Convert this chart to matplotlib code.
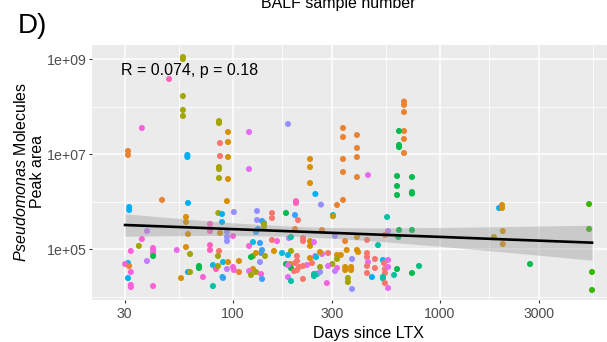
import numpy as np
import matplotlib
matplotlib.use("Agg")
import matplotlib.pyplot as plt
from matplotlib.ticker import NullFormatter

plt.rcParams['font.family'] = ['Liberation Sans', 'DejaVu Sans']
plt.rcParams['mathtext.fontset'] = 'custom'
plt.rcParams['mathtext.rm'] = 'Liberation Sans'
plt.rcParams['mathtext.it'] = 'Liberation Sans:italic'

# ---------------- data ----------------
days = [
    57.3, 57.3, 49.1, 57.3, 57.3, 57.3, 36.3, 85.6, 85.6, 94.6,
    119.5, 184.4, 340, 340, 31.1, 31.1, 86.5, 94.6, 60.2, 60.2,
    86.5, 94.6, 235.5, 235.5, 340, 340, 85.6, 85.6, 119.5, 85.6,
    94.6, 397, 397, 397, 397, 449, 670, 670, 670, 670,
    670, 670, 634, 634, 634, 620, 732, 235.5, 620, 620,
    732, 732, 250, 266, 318, 340, 304, 304, 555, 634,
    732, 561, 269, 311, 348, 397, 444, 542, 629, 502,
    288, 354, 397, 402, 332, 318, 318, 302, 376, 444,
    444, 485, 449, 530, 561, 536, 348, 348, 372, 372,
    318, 311, 288, 444, 485, 542, 561, 620, 792, 732,
    444, 469, 542, 530, 530, 600, 359, 359, 542, 561,
    376, 284, 1928, 1993, 1993, 2010, 2010, 1823, 2722, 5248,
    5248, 5424, 5424, 218, 218, 235.5, 235.5, 246, 45.4, 60.6,
    31.5, 31.5, 59.3, 59.3, 60.6, 38.4, 36.3, 77.4, 77.4, 84.9,
    88.5, 88.5, 86.5, 35.1, 32.1, 41.1, 41.1, 41.1, 41.1, 53.5,
    59.3, 62.0, 77.4, 77.4, 85.6, 84.6, 31.1, 30.1, 31.5, 38.4,
    32.1, 31.1, 32.1, 32.1, 41.1, 56.1, 60.6, 62.0, 68.5, 68.5,
    80.0, 82.8, 84.6, 71.6, 80.0, 89.0, 93.5, 201.5, 201.5, 101,
    130.6, 130.6, 154.3, 154.3, 180.3, 199.3, 206, 138.1, 141.2, 141.2,
    141.2, 93.5, 93.5, 93.5, 100, 132.1, 129.1, 154.3, 163.2, 186.4,
    190.6, 199.3, 124.9, 135, 119.5, 138.1, 136.6, 129.1, 157.8, 172.5,
    190.6, 184.4, 203.8, 124.9, 122.2, 142.7, 235.5, 249.8, 203.8, 269.2,
    263.3, 89.5, 94.6, 106.9, 135, 93.5, 100, 89.5, 101, 106.9,
    180.3, 188.5, 190.6, 199.3, 208.4, 203.8, 197.2, 184.4, 227.8, 263.3,
    240.8, 124.9, 119.5, 129.1, 136.6, 138.1, 122.2, 184.4, 190.6, 217.8,
    246.2, 246.2, 254.5, 263.3, 217.8, 251.8,
]
peak_area = [
    1.10e9, 1.00e9, 3.79e8, 1.66e8, 8.44e7, 6.31e7, 3.53e7, 4.95e7, 4.49e7, 2.91e7,
    2.91e7, 4.28e7, 3.53e7, 2.28e7, 1.16e7, 9.53e6, 1.70e7, 1.79e7, 9.53e6, 8.65e6,
    9.08e6, 8.65e6, 7.85e6, 5.32e6, 7.85e6, 4.18e6, 5.32e6, 4.83e6, 4.83e6, 3.12e6,
    2.98e6, 2.51e7, 1.34e7, 8.65e6, 3.28e6, 3.61e6, 1.27e8, 1.08e8, 7.66e7, 3.05e7,
    2.07e7, 1.05e7, 3.05e7, 1.55e7, 1.40e7, 3.44e6, 3.28e6, 2.45e6, 2.12e6, 1.37e6,
    1.58e6, 1.47e6, 1.44e6, 8.6e5, 8.44e5, 1.08e6, 5.20e5, 4.90e5, 4.72e5, 2.51e5,
    2.51e5, 2.39e5, 2.51e5, 1.88e5, 1.47e5, 1.79e5, 1.55e5, 1.97e5, 1.79e5, 1.21e5,
    8.24e4, 9.53e4, 9.53e4, 8.65e4, 7.48e4, 7.48e4, 6.16e4, 4.83e4, 6.16e4, 8.24e4,
    6.79e4, 6.16e4, 5.32e4, 5.87e4, 5.87e4, 5.07e4, 4.18e4, 3.61e4, 4.18e4, 3.61e4,
    3.98e4, 3.44e4, 4.39e4, 4.39e4, 3.98e4, 3.79e4, 4.18e4, 3.79e4, 4.39e4, 3.12e4,
    3.12e4, 2.57e4, 3.12e4, 2.57e4, 2.40e4, 2.84e4, 2.45e4, 2.02e4, 1.92e4, 1.51e4,
    1.44e4, 1.92e4, 7.30e5, 8.44e5, 7.30e5, 2.39e5, 1.27e5, 1.79e5, 4.83e4, 8.86e5,
    2.64e5, 3.28e4, 1.37e4, 1.70e5, 1.47e5, 1.47e5, 1.16e5, 1.40e5, 1.08e6, 9.30e5,
    7.66e5, 6.62e5, 4.72e5, 3.70e5, 2.07e5, 2.39e5, 1.62e5, 3.36e5, 2.39e5, 5.73e5,
    5.46e5, 3.70e5, 2.18e5, 1.16e5, 9.08e4, 1.05e5, 9.53e4, 8.24e4, 7.12e4, 9.53e4,
    1.10e5, 7.85e4, 1.21e5, 9.53e4, 9.08e4, 7.12e4, 5.07e4, 4.83e4, 4.39e4, 5.59e4,
    3.28e4, 2.45e4, 1.75e4, 1.58e4, 1.66e4, 2.45e4, 3.28e4, 3.28e4, 4.39e4, 3.98e4,
    4.60e4, 3.79e4, 4.39e4, 2.57e4, 1.66e4, 2.57e4, 1.02e6, 1.02e6, 9.30e5, 6.01e5,
    6.31e5, 4.08e5, 5.73e5, 4.49e5, 5.73e5, 5.20e5, 4.08e5, 3.89e5, 3.53e5, 3.36e5,
    2.91e5, 2.28e5, 1.79e5, 1.47e5, 1.88e5, 2.64e5, 2.28e5, 1.55e5, 1.47e5, 1.70e5,
    1.79e5, 2.64e5, 1.40e5, 1.34e5, 1.16e5, 9.53e4, 8.24e4, 8.24e4, 9.08e4, 8.24e4,
    9.08e4, 7.48e4, 7.12e4, 7.12e4, 6.79e4, 7.12e4, 6.46e4, 7.12e4, 5.59e4, 7.85e4,
    8.65e4, 5.32e4, 5.32e4, 5.59e4, 5.32e4, 3.79e4, 4.18e4, 2.45e4, 3.61e4, 3.28e4,
    4.83e4, 4.83e4, 3.98e4, 5.07e4, 4.18e4, 3.61e4, 3.44e4, 4.60e4, 4.60e4, 4.18e4,
    5.07e4, 3.79e4, 3.44e4, 3.28e4, 2.98e4, 2.34e4, 2.84e4, 2.57e4, 2.12e4, 2.34e4,
    2.70e4, 2.98e4, 2.98e4, 3.28e4, 4.39e4, 6.79e4,
]
patient = [
    "P05", "P05", "P19", "P05", "P05", "P05", "P18", "P05", "P05", "P03",
    "P17", "P15", "P02", "P02", "P02", "P02", "P01", "P03", "P13", "P13",
    "P01", "P03", "P03", "P03", "P02", "P02", "P05", "P05", "P17", "P05",
    "P03", "P02", "P02", "P02", "P02", "P17", "P02", "P02", "P02", "P02",
    "P02", "P02", "P08", "P08", "P08", "P08", "P08", "P03", "P08", "P08",
    "P08", "P08", "P13", "P15", "P02", "P02", "P12", "P04", "P10", "P08",
    "P08", "P16", "P02", "P15", "P02", "P03", "P01", "P01", "P08", "P10",
    "P01", "P03", "P03", "P03", "P03", "P03", "P05", "P05", "P15", "P01",
    "P01", "P01", "P17", "P13", "P17", "P01", "P03", "P03", "P03", "P03",
    "P18", "P16", "P17", "P01", "P01", "P01", "P17", "P08", "P09", "P08",
    "P01", "P13", "P01", "P10", "P10", "P10", "P05", "P05", "P01", "P17",
    "P15", "P18", "P13", "P03", "P03", "P03", "P03", "P04", "P08", "P07",
    "P07", "P07", "P07", "P01", "P01", "P03", "P03", "P17", "P02", "P13",
    "P13", "P13", "P03", "P03", "P03", "P16", "P18", "P19", "P19", "P05",
    "P13", "P13", "P03", "P05", "P18", "P18", "P18", "P18", "P08", "P17",
    "P03", "P05", "P19", "P19", "P01", "P05", "P13", "P18", "P02", "P16",
    "P18", "P13", "P18", "P18", "P18", "P03", "P13", "P05", "P08", "P08",
    "P12", "P19", "P05", "P18", "P10", "P13", "P03", "P19", "P19", "P15",
    "P15", "P15", "P01", "P01", "P08", "P14", "P01", "P14", "P14", "P05",
    "P05", "P15", "P15", "P15", "P18", "P14", "P14", "P01", "P18", "P16",
    "P10", "P02", "P12", "P14", "P18", "P14", "P14", "P03", "P03", "P12",
    "P05", "P12", "P01", "P05", "P08", "P05", "P03", "P17", "P01", "P17",
    "P03", "P12", "P03", "P03", "P15", "P16", "P18", "P14", "P18", "P02",
    "P08", "P03", "P08", "P01", "P01", "P01", "P01", "P17", "P17", "P05",
    "P01", "P03", "P17", "P05", "P18", "P14", "P05", "P17", "P10", "P01",
    "P10", "P10", "P10", "P15", "P01", "P12",
]
patients = ["P%02d" % i for i in range(1, 21)]

# fitted trend (lm on log-log) and its 95% band
trend_days = [30.1, 60, 100, 200, 300, 500, 1000, 2000, 3000, 5424]
trend_fit = [3.20e5, 2.86e5, 2.62e5, 2.34e5, 2.19e5, 2.01e5, 1.80e5, 1.60e5, 1.50e5, 1.36e5]
trend_low = [1.86e5, 1.92e5, 1.93e5, 1.84e5, 1.69e5, 1.46e5, 1.14e5, 8.7e4, 7.4e4, 5.8e4]
trend_high = [5.51e5, 4.25e5, 3.56e5, 2.98e5, 2.83e5, 2.78e5, 2.84e5, 2.95e5, 3.04e5, 3.17e5]

cor_label = "R = 0.074, p = 0.18"
x_ticks = [30, 100, 300, 1000, 3000]
x_minor = [54.8, 173.2, 547.7, 1732, 5477]
y_ticks = [1e5, 1e7, 1e9]
y_tick_labels = ["1e+05", "1e+07", "1e+09"]
y_minor = [1e4, 1e6, 1e8]

# ggplot2 hue palette (20 levels)
hue20 = ["#F8766D", "#EA8331", "#D89000", "#C09B00", "#A3A500", "#7CAE00",
         "#39B600", "#00BB4E", "#00BF7D", "#00C1A3", "#00BFC4", "#00BAE0",
         "#00B0F6", "#35A2FF", "#9590FF", "#C77CFF", "#E76BF3", "#FA62DB",
         "#FF62BC", "#FF6C91"]
pal = dict(zip(patients, hue20))

# ---------------- figure ----------------
W, H = 607, 342
fig = plt.figure(figsize=(W / 100, H / 100), dpi=100)
ax_l, ax_r, ax_t, ax_b = 92, 645, 44.5, 300
ax = fig.add_axes([ax_l / W, 1 - ax_b / H, (ax_r - ax_l) / W, (ax_b - ax_t) / H])
ax.set_facecolor("#EBEBEB")
for s in ax.spines.values():
    s.set_visible(False)

ax.set_xscale("log")
ax.set_yscale("log")
ax.set_xlim(20.84, 9780)
ax.set_ylim(8440, 2.02e9)

ax.set_xticks(x_ticks)
ax.set_xticklabels([str(v) for v in x_ticks])
ax.set_xticks(x_minor, minor=True)
ax.set_yticks(y_ticks)
ax.set_yticklabels(y_tick_labels)
ax.set_yticks(y_minor, minor=True)
ax.xaxis.set_minor_formatter(NullFormatter())
ax.yaxis.set_minor_formatter(NullFormatter())
ax.grid(which="major", color="white", linewidth=1.1)
ax.grid(which="minor", color="white", linewidth=0.55)
ax.set_axisbelow(True)
ax.tick_params(which="major", length=2.3, width=0.8, color="#333333",
               labelsize=10.2, labelcolor="#4D4D4D", pad=1.5)
ax.tick_params(axis="x", which="major", pad=2.5)
ax.tick_params(which="minor", length=0)

cols = [pal[p] for p in patient]
ax.scatter(days, peak_area, c=cols, s=19, linewidths=0, zorder=2)
ax.fill_between(trend_days, trend_low, trend_high,
                color="#999999", alpha=0.4, linewidth=0, zorder=3)
ax.plot(trend_days, trend_fit, color="black", linewidth=1.9, zorder=4)

ax.text((121 - ax_l) / (ax_r - ax_l), (ax_b - 75.5) / (ax_b - ax_t), cor_label,
        transform=ax.transAxes, fontsize=11.5, color="black",
        ha="left", va="baseline")

# labels
fig.text(368.7 / W, 1 - 338 / H, "Days since LTX", fontsize=11.5,
         ha="center", va="baseline", color="black")
fig.text(29 / W, 1 - 172 / H, r"$\it{Pseudomonas}$ Molecules" + "\nPeak area",
         fontsize=11.5, rotation=90, ha="center", va="center",
         multialignment="center", linespacing=1.1, color="black")
fig.text(18 / W, 1 - 33 / H, "D)", fontsize=20, ha="left", va="baseline",
         color="black")
fig.text(338.6 / W, 1 - 7.7 / H, "BALF sample number", fontsize=11.5,
         ha="center", va="baseline", color="black")

fig.savefig("out.png", dpi=100)
